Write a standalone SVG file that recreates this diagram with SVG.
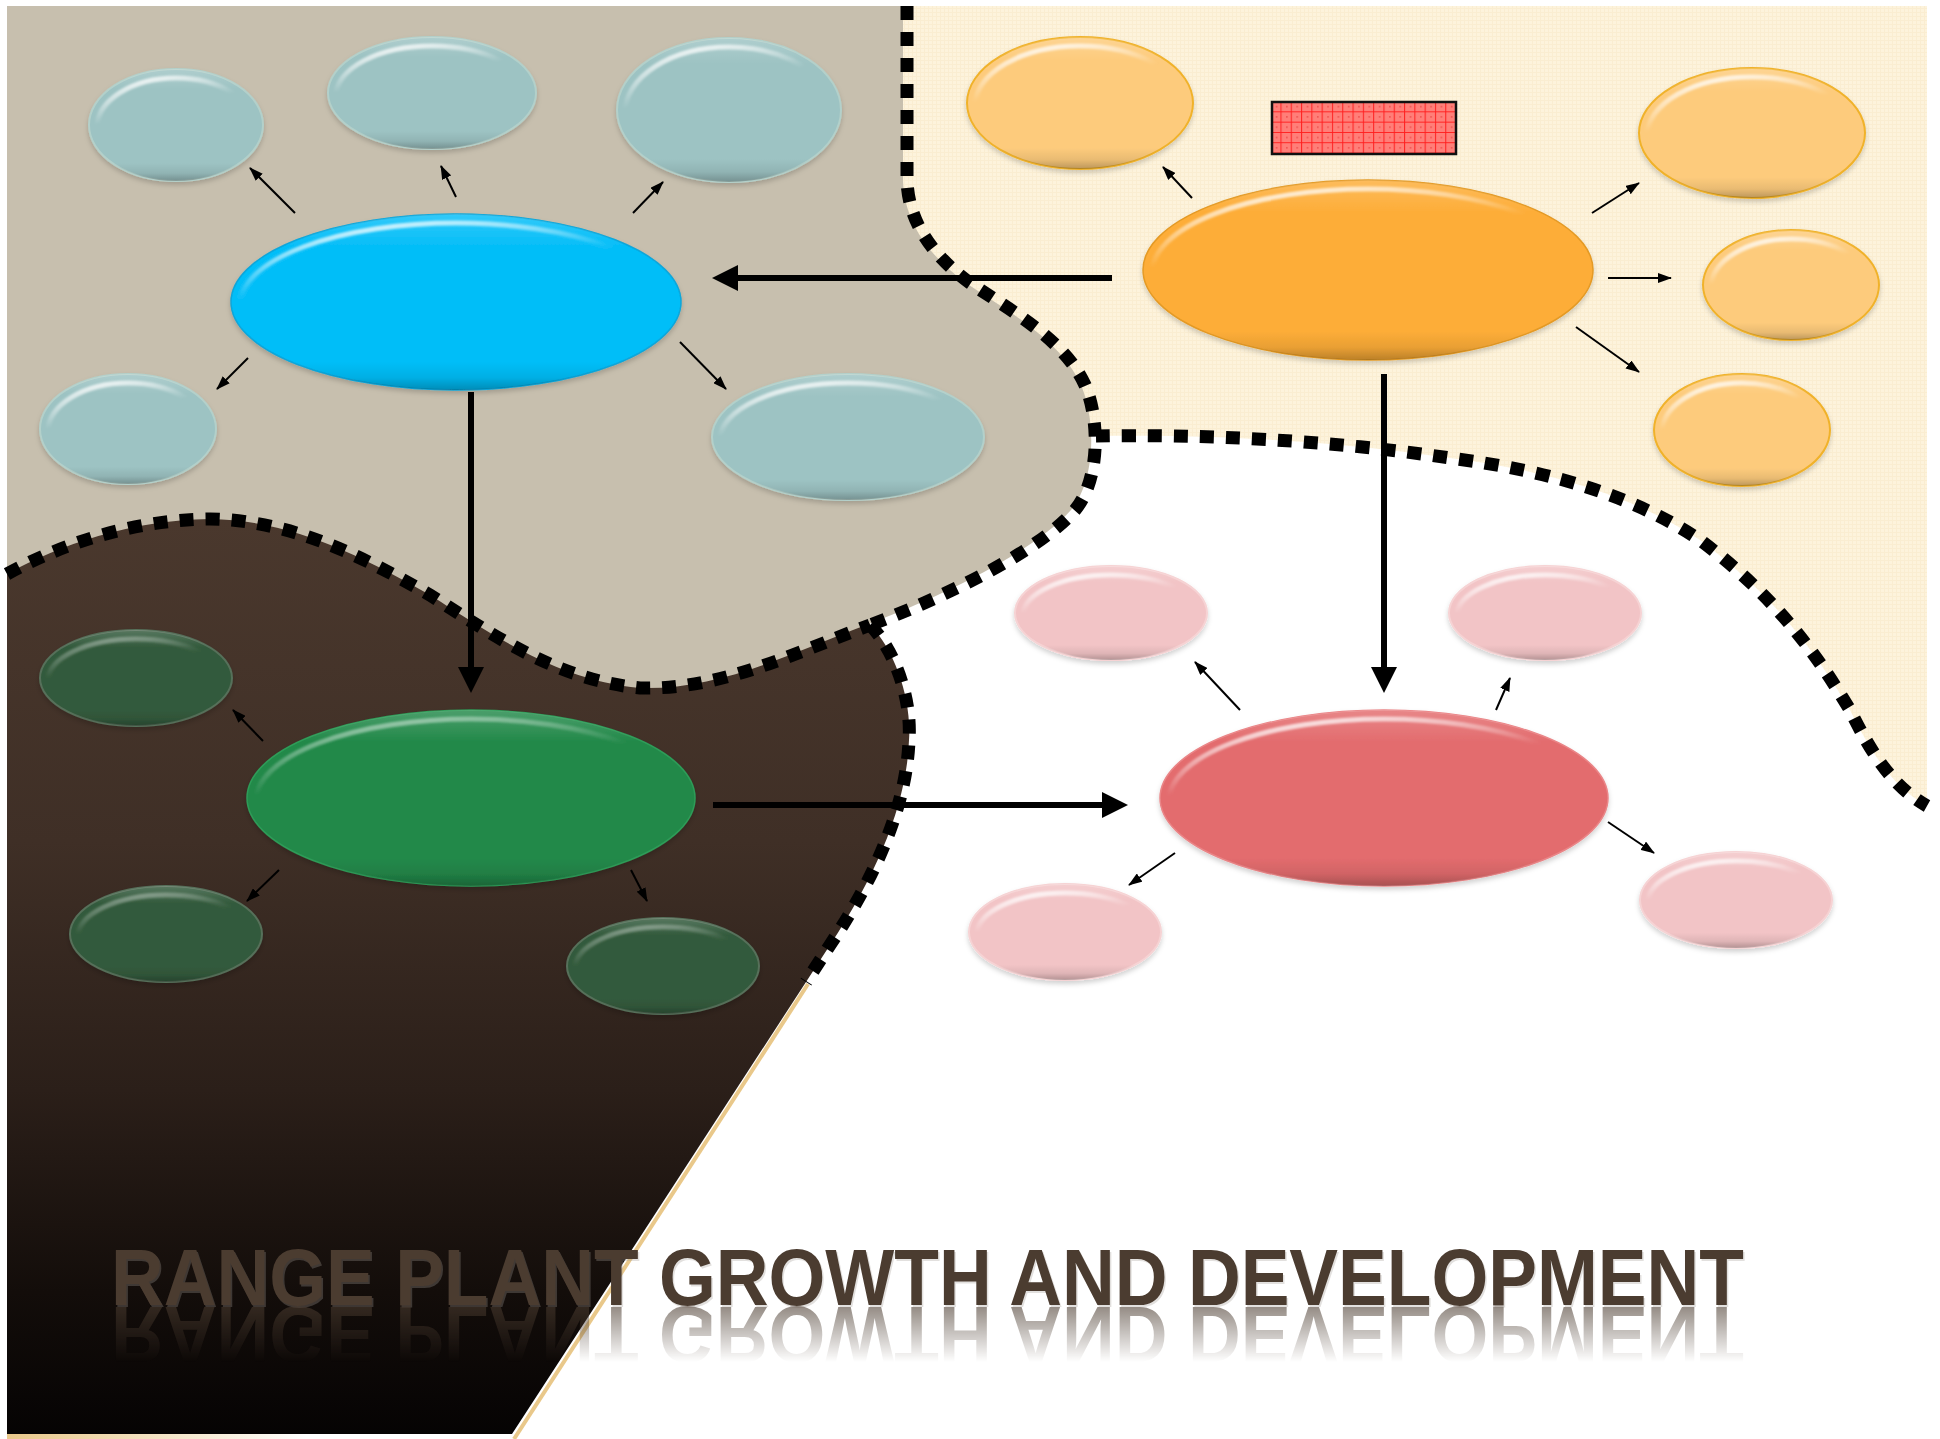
<svg xmlns="http://www.w3.org/2000/svg" width="1940" height="1439" viewBox="0 0 1940 1439">
  <defs>
    <style>
      text { font-family: "Liberation Sans", Arial, sans-serif; font-weight: bold; }
      .zone-line { fill: none; stroke: #000; stroke-width: 13; stroke-dasharray: 14 12; }
      .link-sm { fill: none; stroke: #000; stroke-width: 2; marker-end: url(#ah-sm); }
      .link-lg { fill: none; stroke: #000; stroke-width: 6; marker-end: url(#ah-lg); }
      .shade { fill: url(#shade); }
      .gloss { fill: none; stroke: url(#gloss); stroke-width: 5; filter: url(#soften); }
      .node { filter: url(#lift); }
      .teal  { fill: #9DC3C3; stroke: #B3D0CA; stroke-width: 2; }
      .blue  { fill: #05BEF8; stroke: #0AA6DA; stroke-width: 1.5; }
      .amber { fill: #FDAD38; stroke: #E49A25; stroke-width: 1.5; }
      .peach { fill: #FDCB7C; stroke: #F0B22C; stroke-width: 2; }
      .green { fill: #23894A; stroke: #2E9C58; stroke-width: 1.5; }
      .moss  { fill: #335A3C; stroke: #56705A; stroke-width: 2; }
      .coral { fill: #E36C6E; stroke: #EA8587; stroke-width: 1.5; }
      .pink  { fill: #F2C4C6; stroke: #F6D3D4; stroke-width: 2; }
    </style>

    <!-- bevel shading shared by every bubble -->
    <linearGradient id="shade" x1="0" y1="0" x2="0" y2="1">
      <stop offset="0" stop-color="#fff" stop-opacity="0.18"/>
      <stop offset="0.18" stop-color="#fff" stop-opacity="0"/>
      <stop offset="0.84" stop-color="#000" stop-opacity="0"/>
      <stop offset="0.93" stop-color="#000" stop-opacity="0.08"/>
      <stop offset="1" stop-color="#000" stop-opacity="0.26"/>
    </linearGradient>
    <linearGradient id="gloss" x1="0.25" y1="0" x2="0.45" y2="0.55">
      <stop offset="0" stop-color="#fff" stop-opacity="0.85"/>
      <stop offset="0.3" stop-color="#fff" stop-opacity="0.45"/>
      <stop offset="0.6" stop-color="#fff" stop-opacity="0"/>
    </linearGradient>
    <filter id="soften" x="-5%" y="-10%" width="110%" height="120%">
      <feGaussianBlur stdDeviation="1"/>
    </filter>
    <filter id="lift" x="-10%" y="-15%" width="120%" height="140%">
      <feDropShadow dx="0" dy="3" stdDeviation="2.5" flood-color="#000" flood-opacity="0.18"/>
    </filter>

    <!-- ground fills -->
    <linearGradient id="soil" x1="0" y1="520" x2="0" y2="1439" gradientUnits="userSpaceOnUse">
      <stop offset="0" stop-color="#4A382D"/>
      <stop offset="0.35" stop-color="#3F2F26"/>
      <stop offset="0.62" stop-color="#2B1F19"/>
      <stop offset="0.84" stop-color="#130D0A"/>
      <stop offset="1" stop-color="#050303"/>
    </linearGradient>
    <pattern id="weave" width="4" height="4" patternUnits="userSpaceOnUse">
      <rect width="4" height="4" fill="#FDF3DC"/>
      <path d="M0 0.5H4M0.5 0V4" stroke="#F5E6C3" stroke-width="1" opacity="0.45"/>
    </pattern>
    <linearGradient id="sand" x1="0" y1="0" x2="1" y2="0">
      <stop offset="0" stop-color="#E9C88A"/>
      <stop offset="1" stop-color="#E9C88A" stop-opacity="0"/>
    </linearGradient>

    <!-- red mesh swatch -->
    <pattern id="mesh" x="1272" y="102" width="10.3" height="10.3" patternUnits="userSpaceOnUse">
      <rect width="10.3" height="10.3" fill="#FF7E78"/>
      <path d="M9 0V10.3M0 9.8H10.3" stroke="#FF1F1F" stroke-width="1"/>
      <rect x="4" y="4" width="1.2" height="1.2" fill="#E83232"/>
    </pattern>

    <!-- arrowheads -->
    <marker id="ah-sm" viewBox="0 0 14 10" markerWidth="14" markerHeight="10" refX="13" refY="5" orient="auto" markerUnits="userSpaceOnUse">
      <path d="M0,0 L14,5 L0,10 Z" fill="#000"/>
    </marker>
    <marker id="ah-lg" viewBox="0 0 26 26" markerWidth="26" markerHeight="26" refX="6" refY="13" orient="auto" markerUnits="userSpaceOnUse">
      <path d="M0,0 L26,13 L0,26 Z" fill="#000"/>
    </marker>

    <!-- reflection fade under the title -->
    <linearGradient id="fadeGrad" x1="0" y1="1306" x2="0" y2="1362" gradientUnits="userSpaceOnUse">
      <stop offset="0" stop-color="#fff" stop-opacity="0.6"/>
      <stop offset="1" stop-color="#fff" stop-opacity="0"/>
    </linearGradient>
    <mask id="reflect-fade" maskUnits="userSpaceOnUse" x="0" y="1300" width="1940" height="80">
      <rect x="0" y="1300" width="1940" height="80" fill="url(#fadeGrad)"/>
    </mask>
  </defs>

  <!-- backdrop -->
  <rect width="1940" height="1439" fill="#fff"/>

  <!-- zones -->
  <g id="zones">
    <path id="zone-cream" fill="url(#weave)" d="M907,6 L1927,6 L1927,806 C1890,785 1870,750 1850,710 C1820,660 1780,600 1700,540 C1640,500 1560,472 1450,458 C1330,440 1200,434 1096,436 L900,436 L900,6 Z"/>
    <path d="M808,984 L514,1439" stroke="#E9C88A" stroke-width="4" fill="none"/>
    <rect x="7" y="1434" width="300" height="5" fill="url(#sand)"/>
    <path id="zone-soil" fill="url(#soil)" d="M7,500 L860,500 L870,625 C895,650 912,700 909,740 C907,800 880,870 830,945 L806,982 L512,1434 L7,1434 Z"/>
    <path id="zone-tan" fill="#C7BFAE" d="M7,6 L903,6 L903,180 C904,215 921,250 966,283 C1006,310 1061,340 1081,385 C1096,420 1096,480 1071,510 C1036,550 946,595 866,625 C786,655 720,690 640,688 C560,680 500,640 430,595 C360,555 290,520 210,519 C130,520 60,545 7,574 Z"/>
  </g>

  <!-- dashed zone borders -->
  <g id="borders">
    <path class="zone-line" d="M907,6 L907,180 C908,215 925,250 970,283 C1010,310 1065,340 1085,385 C1100,420 1100,480 1075,510 C1040,550 950,595 870,625"/>
    <path class="zone-line" d="M1096,436 C1200,434 1330,440 1450,458 C1560,472 1640,500 1700,540 C1780,600 1820,660 1850,710 C1870,750 1890,785 1927,806"/>
    <path class="zone-line" d="M7,574 C60,545 130,520 210,519 C290,520 360,555 430,595 C500,640 560,680 640,688 C720,690 790,655 870,625"/>
    <path class="zone-line" d="M870,625 C895,650 912,700 909,740 C907,800 880,870 830,945 L806,982"/>
  </g>

  <!-- connectors -->
  <g id="connectors">
    <path class="link-lg" d="M1112,278 L732,278"/>
    <path class="link-lg" d="M471,392 L471,673"/>
    <path class="link-lg" d="M1384,374 L1384,673"/>
    <path class="link-lg" d="M713,805 L1108,805"/>

    <path class="link-sm" d="M295,213 L250,168"/>
    <path class="link-sm" d="M456,197 L441,166"/>
    <path class="link-sm" d="M633,213 L663,182"/>
    <path class="link-sm" d="M248,358 L217,389"/>
    <path class="link-sm" d="M680,342 L726,389"/>

    <path class="link-sm" d="M1192,198 L1163,167"/>
    <path class="link-sm" d="M1592,213 L1639,183"/>
    <path class="link-sm" d="M1608,278 L1671,278"/>
    <path class="link-sm" d="M1576,327 L1639,372"/>

    <path class="link-sm" d="M1240,710 L1195,662"/>
    <path class="link-sm" d="M1496,710 L1510,678"/>
    <path class="link-sm" d="M1175,853 L1129,885"/>
    <path class="link-sm" d="M1608,822 L1654,853"/>

    <path class="link-sm" d="M263,741 L233,710"/>
    <path class="link-sm" d="M279,870 L247,901"/>
    <path class="link-sm" d="M631,870 L647,901"/>
  </g>

  <!-- top-left cluster -->
  <g id="node-t1" class="node">
    <ellipse class="teal" cx="176" cy="125" rx="87" ry="56"/>
    <ellipse class="shade" cx="176" cy="125" rx="87" ry="56"/>
    <ellipse class="gloss" cx="176" cy="128" rx="79" ry="50"/>
  </g>
  <g id="node-t2" class="node">
    <ellipse class="teal" cx="432" cy="93" rx="104" ry="56"/>
    <ellipse class="shade" cx="432" cy="93" rx="104" ry="56"/>
    <ellipse class="gloss" cx="432" cy="96" rx="96" ry="50"/>
  </g>
  <g id="node-t3" class="node">
    <ellipse class="teal" cx="729" cy="110" rx="112" ry="72"/>
    <ellipse class="shade" cx="729" cy="110" rx="112" ry="72"/>
    <ellipse class="gloss" cx="729" cy="113" rx="104" ry="66"/>
  </g>
  <g id="node-blue" class="node">
    <ellipse class="blue" cx="456" cy="302" rx="225" ry="88"/>
    <ellipse class="shade" cx="456" cy="302" rx="225" ry="88"/>
    <ellipse class="gloss" cx="456" cy="305" rx="216" ry="82"/>
  </g>
  <g id="node-t4" class="node">
    <ellipse class="teal" cx="128" cy="429" rx="88" ry="55"/>
    <ellipse class="shade" cx="128" cy="429" rx="88" ry="55"/>
    <ellipse class="gloss" cx="128" cy="432" rx="80" ry="49"/>
  </g>
  <g id="node-t5" class="node">
    <ellipse class="teal" cx="848" cy="437" rx="136" ry="63"/>
    <ellipse class="shade" cx="848" cy="437" rx="136" ry="63"/>
    <ellipse class="gloss" cx="848" cy="440" rx="128" ry="57"/>
  </g>

  <!-- top-right cluster -->
  <g id="node-o1" class="node">
    <ellipse class="peach" cx="1080" cy="103" rx="113" ry="66"/>
    <ellipse class="shade" cx="1080" cy="103" rx="113" ry="66"/>
    <ellipse class="gloss" cx="1080" cy="106" rx="105" ry="60"/>
  </g>
  <rect id="swatch" x="1272" y="102" width="184" height="52" fill="url(#mesh)" stroke="#111" stroke-width="2.5"/>
  <g id="node-amber" class="node">
    <ellipse class="amber" cx="1368" cy="270" rx="225" ry="90"/>
    <ellipse class="shade" cx="1368" cy="270" rx="225" ry="90"/>
    <ellipse class="gloss" cx="1368" cy="273" rx="216" ry="84"/>
  </g>
  <g id="node-o2" class="node">
    <ellipse class="peach" cx="1752" cy="133" rx="113" ry="65"/>
    <ellipse class="shade" cx="1752" cy="133" rx="113" ry="65"/>
    <ellipse class="gloss" cx="1752" cy="136" rx="105" ry="59"/>
  </g>
  <g id="node-o3" class="node">
    <ellipse class="peach" cx="1791" cy="285" rx="88" ry="55"/>
    <ellipse class="shade" cx="1791" cy="285" rx="88" ry="55"/>
    <ellipse class="gloss" cx="1791" cy="288" rx="80" ry="49"/>
  </g>
  <g id="node-o4" class="node">
    <ellipse class="peach" cx="1742" cy="430" rx="88" ry="56"/>
    <ellipse class="shade" cx="1742" cy="430" rx="88" ry="56"/>
    <ellipse class="gloss" cx="1742" cy="433" rx="80" ry="50"/>
  </g>

  <!-- bottom-right cluster -->
  <g id="node-p1" class="node">
    <ellipse class="pink" cx="1111" cy="613" rx="96" ry="47"/>
    <ellipse class="shade" cx="1111" cy="613" rx="96" ry="47"/>
    <ellipse class="gloss" cx="1111" cy="616" rx="88" ry="41"/>
  </g>
  <g id="node-p2" class="node">
    <ellipse class="pink" cx="1545" cy="613" rx="96" ry="47"/>
    <ellipse class="shade" cx="1545" cy="613" rx="96" ry="47"/>
    <ellipse class="gloss" cx="1545" cy="616" rx="88" ry="41"/>
  </g>
  <g id="node-coral" class="node">
    <ellipse class="coral" cx="1384" cy="798" rx="224" ry="88"/>
    <ellipse class="shade" cx="1384" cy="798" rx="224" ry="88"/>
    <ellipse class="gloss" cx="1384" cy="801" rx="215" ry="82"/>
  </g>
  <g id="node-p3" class="node">
    <ellipse class="pink" cx="1065" cy="932" rx="96" ry="48"/>
    <ellipse class="shade" cx="1065" cy="932" rx="96" ry="48"/>
    <ellipse class="gloss" cx="1065" cy="935" rx="88" ry="42"/>
  </g>
  <g id="node-p4" class="node">
    <ellipse class="pink" cx="1736" cy="900" rx="96" ry="48"/>
    <ellipse class="shade" cx="1736" cy="900" rx="96" ry="48"/>
    <ellipse class="gloss" cx="1736" cy="903" rx="88" ry="42"/>
  </g>

  <!-- bottom-left cluster -->
  <g id="node-g1" class="node">
    <ellipse class="moss" cx="136" cy="678" rx="96" ry="48"/>
    <ellipse class="shade" cx="136" cy="678" rx="96" ry="48"/>
    <ellipse class="gloss" cx="136" cy="681" rx="88" ry="42" opacity="0.45"/>
  </g>
  <g id="node-green" class="node">
    <ellipse class="green" cx="471" cy="798" rx="224" ry="88"/>
    <ellipse class="shade" cx="471" cy="798" rx="224" ry="88"/>
    <ellipse class="gloss" cx="471" cy="801" rx="215" ry="82" opacity="0.6"/>
  </g>
  <g id="node-g2" class="node">
    <ellipse class="moss" cx="166" cy="934" rx="96" ry="48"/>
    <ellipse class="shade" cx="166" cy="934" rx="96" ry="48"/>
    <ellipse class="gloss" cx="166" cy="937" rx="88" ry="42" opacity="0.45"/>
  </g>
  <g id="node-g3" class="node">
    <ellipse class="moss" cx="663" cy="966" rx="96" ry="48"/>
    <ellipse class="shade" cx="663" cy="966" rx="96" ry="48"/>
    <ellipse class="gloss" cx="663" cy="969" rx="88" ry="42" opacity="0.45"/>
  </g>

  <!-- title with drop shadow and mirrored reflection -->
  <g id="title" font-size="79">
    <text x="112.5" y="1306.5" textLength="1633" lengthAdjust="spacingAndGlyphs" fill="#A39C95" opacity="0.3">RANGE PLANT GROWTH AND DEVELOPMENT</text>
    <text x="111" y="1305" textLength="1633" lengthAdjust="spacingAndGlyphs" fill="#4B3C30">RANGE PLANT GROWTH AND DEVELOPMENT</text>
    <g mask="url(#reflect-fade)">
      <text x="111" y="1305" textLength="1633" lengthAdjust="spacingAndGlyphs" fill="#4B3C30" transform="matrix(1 0 0 -1 0 2612)">RANGE PLANT GROWTH AND DEVELOPMENT</text>
    </g>
  </g>
</svg>
